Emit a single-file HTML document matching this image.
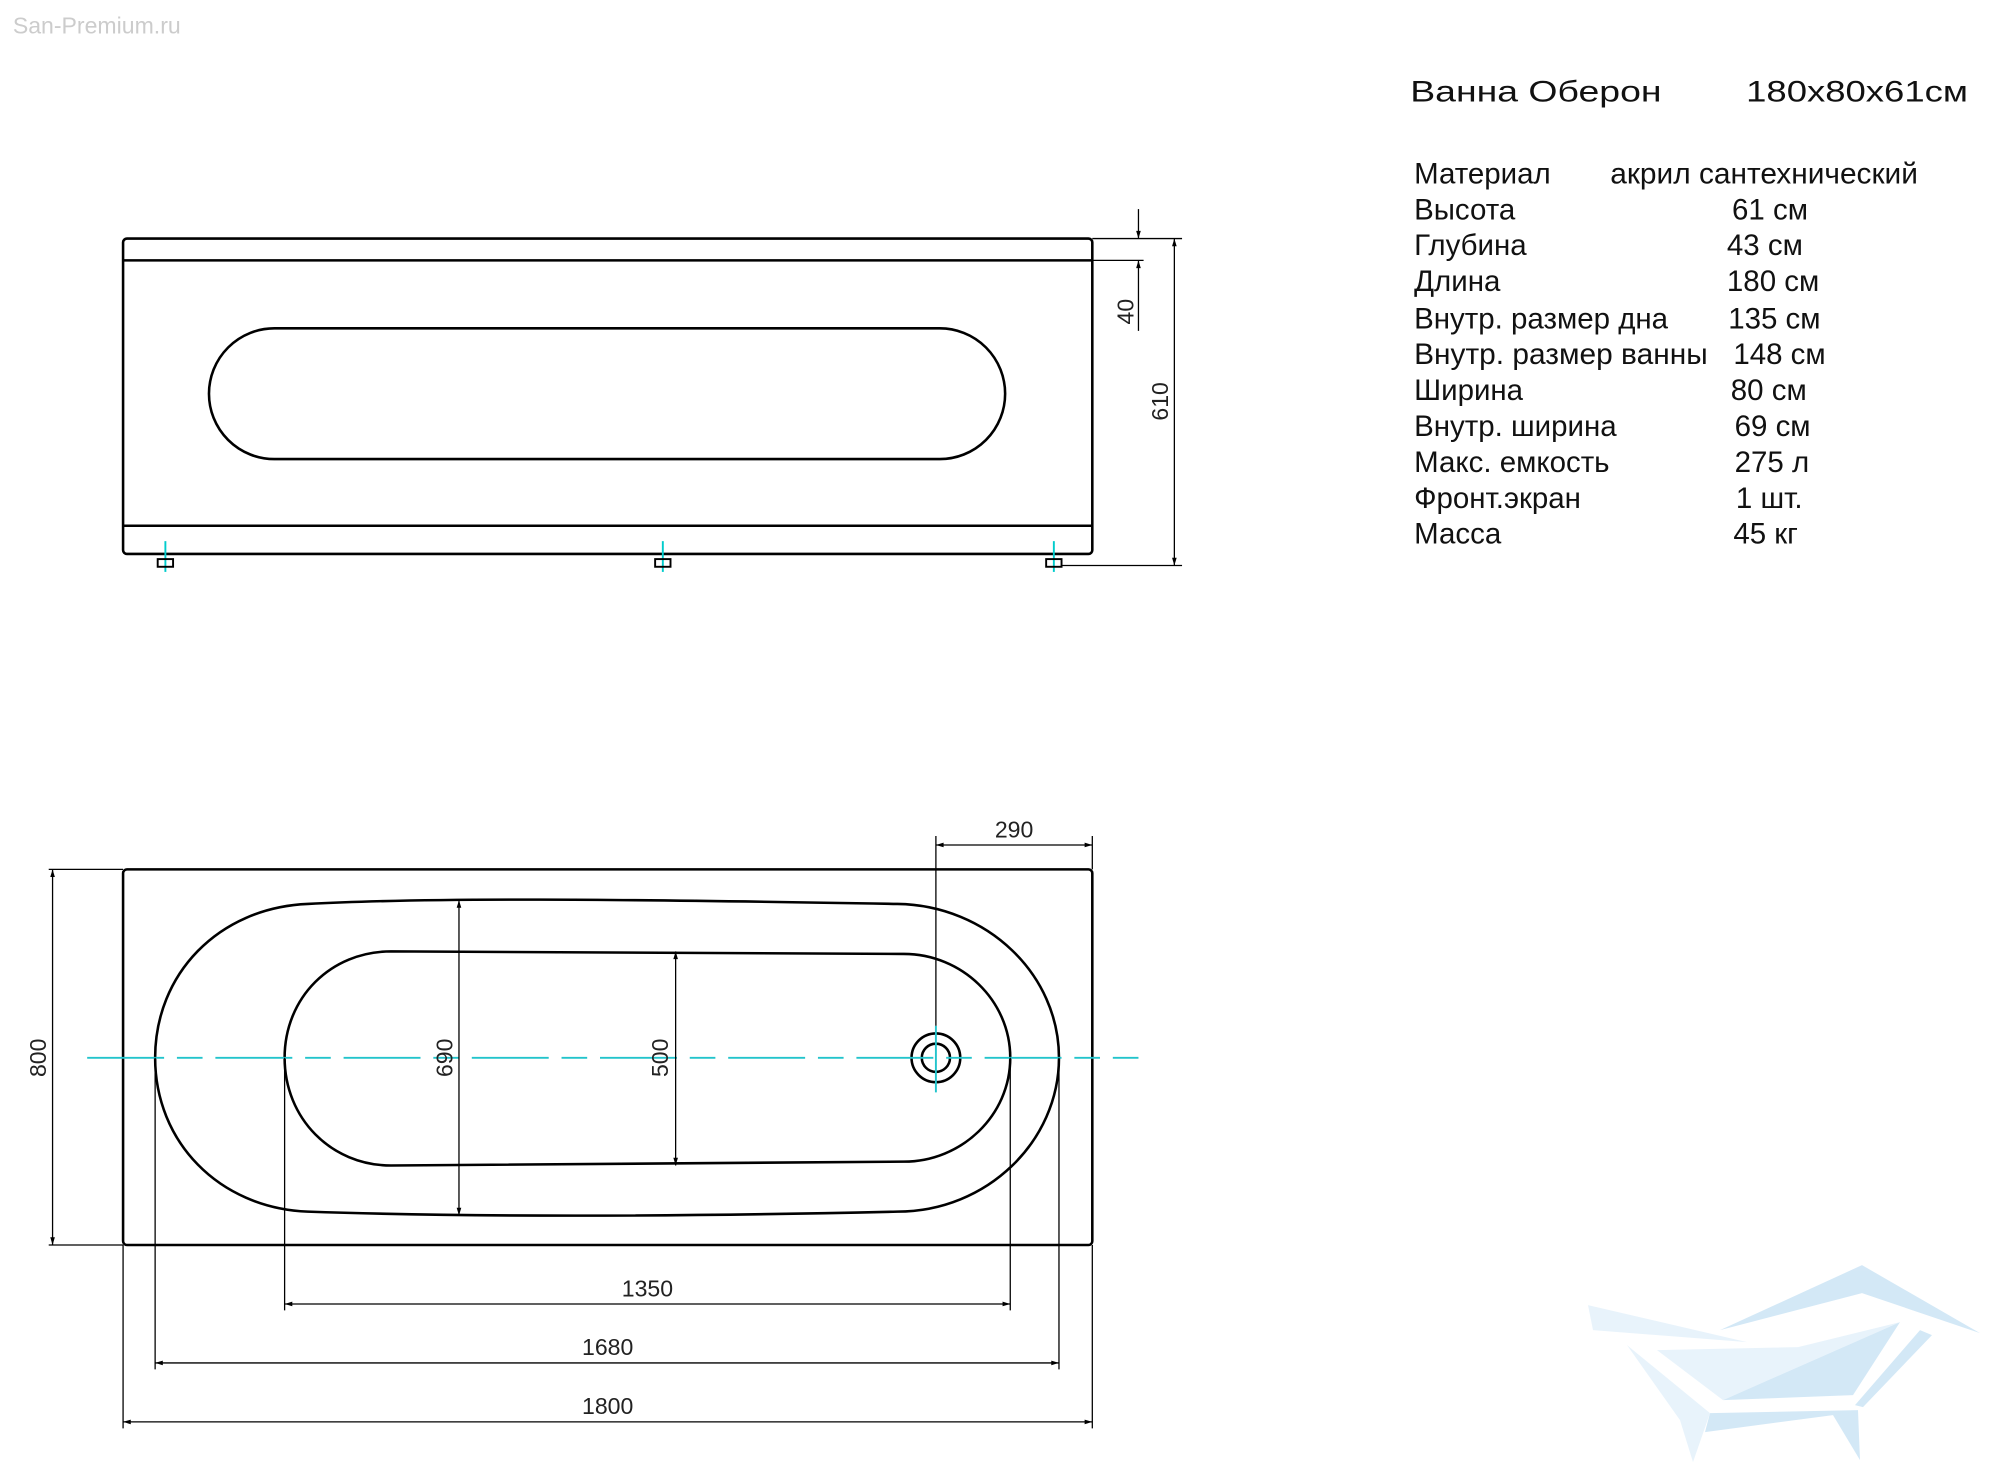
<!DOCTYPE html>
<html><head><meta charset="utf-8"><style>
html,body{margin:0;padding:0;background:#fff;width:2000px;height:1481px;overflow:hidden}
svg{display:block}
.t{font-family:"Liberation Sans","Noto Sans CJK SC",sans-serif;font-size:23px;fill:#111}
.d{font-family:"Liberation Sans",sans-serif;font-size:18px;fill:#222}
</style></head><body>
<svg width="2000" height="1481" viewBox="0 0 1560 1155" xmlns="http://www.w3.org/2000/svg">
<defs>
<marker id="a" viewBox="0 0 10 10" refX="10" refY="5" markerWidth="10" markerHeight="6" orient="auto-start-reverse" markerUnits="userSpaceOnUse"><path d="M0,2 L10,5 L0,8 z" fill="#000"/></marker>
</defs>
<text x="10" y="26" font-family="Liberation Sans,sans-serif" font-size="18" fill="#ccc">San-Premium.ru</text>

<g transform="scale(0.78)" opacity="0.9">
<polygon points="1720,1330 1862,1265 1980,1333 1862,1293" fill="#cfe6f6"/>
<polygon points="1588,1305 1747,1342 1593,1330" fill="#e6f2fb"/>
<polygon points="1657,1350 1798,1347 1900,1322 1723,1400" fill="#e6f2fb"/>
<polygon points="1900,1322 1853,1395 1723,1400" fill="#cfe6f6"/>
<polygon points="1710,1413 1858,1410 1860,1460 1833,1415 1705,1432" fill="#cfe6f6"/>
<polygon points="1627,1345 1710,1413 1693,1462 1680,1420" fill="#e6f2fb"/>
<polygon points="1920,1330 1932,1335 1863,1407 1855,1405" fill="#cfe6f6"/>
</g>

<text class="t" x="1100" y="79" font-size="30" textLength="196" lengthAdjust="spacingAndGlyphs">Ванна Оберон</text>
<text class="t" x="1362" y="79" font-size="30" textLength="173" lengthAdjust="spacingAndGlyphs">180x80x61см</text>
<g class="t">
<text x="1103" y="143">Материал</text><text x="1256" y="143" textLength="240" lengthAdjust="spacingAndGlyphs">акрил сантехнический</text>
<text x="1103" y="171">Высота</text><text x="1351" y="171">61 см</text>
<text x="1103" y="199">Глубина</text><text x="1347" y="199">43 см</text>
<text x="1103" y="227">Длина</text><text x="1347" y="227">180 см</text>
<text x="1103" y="256">Внутр. размер дна</text><text x="1348" y="256">135 см</text>
<text x="1103" y="284" textLength="229" lengthAdjust="spacingAndGlyphs">Внутр. размер ванны</text><text x="1352" y="284">148 см</text>
<text x="1103" y="312">Ширина</text><text x="1350" y="312">80 см</text>
<text x="1103" y="340">Внутр. ширина</text><text x="1353" y="340">69 см</text>
<text x="1103" y="368">Макс. емкость</text><text x="1353" y="368">275 л</text>
<text x="1103" y="396">Фронт.экран</text><text x="1354" y="396">1 шт.</text>
<text x="1103" y="424">Масса</text><text x="1352" y="424">45 кг</text>
</g>

<g fill="none" stroke="#000" stroke-width="2">
<rect x="96" y="186" width="756" height="246" rx="3"/>
<line x1="96" y1="203" x2="852" y2="203"/>
<line x1="96" y1="410" x2="852" y2="410"/>
<rect x="163" y="256" width="621" height="102" rx="51"/>
</g>
<g stroke="#000" stroke-width="1" fill="none">
<line x1="852" y1="186" x2="922" y2="186"/>
<line x1="852" y1="203" x2="892" y2="203"/>
<line x1="828" y1="441" x2="922" y2="441"/>
<line x1="916" y1="186" x2="916" y2="441" marker-start="url(#a)" marker-end="url(#a)"/>
<line x1="888" y1="163" x2="888" y2="186" marker-end="url(#a)"/>
<line x1="888" y1="203" x2="888" y2="258" marker-start="url(#a)"/>
</g>
<g stroke="#0cc" stroke-width="1.5"><line x1="129" y1="422" x2="129" y2="446"/><line x1="517" y1="422" x2="517" y2="446"/><line x1="822" y1="422" x2="822" y2="446"/></g>
<g fill="none" stroke="#000" stroke-width="1.5">
<rect x="123" y="436" width="12" height="6"/><rect x="511" y="436" width="12" height="6"/><rect x="816" y="436" width="12" height="6"/>
</g>
<text class="d" transform="translate(911,313) rotate(-90)" text-anchor="middle">610</text>
<text class="d" transform="translate(884,243) rotate(-90)" text-anchor="middle">40</text>

<g fill="none" stroke="#000" stroke-width="2">
<rect x="96" y="678" width="756" height="293" rx="3"/>
<path d="M240,705 C330,700 480,701 700,705 C770,706 826,760 826,825 C826,890 770,945 700,945 C480,950 330,948 240,945 C170,942 121,890 121,825 C121,760 170,708 240,705 Z"/>
<path d="M305,742 L705,744 C750,744 788,780 788,825 C788,870 750,906 705,906 L305,909 C258,909 222,872 222,825 C222,778 258,742 305,742 Z"/>
<circle cx="730" cy="825" r="19"/><circle cx="730" cy="825" r="11"/>
</g>
<line x1="68" y1="825" x2="888" y2="825" stroke="#22c4cc" stroke-width="1.5" stroke-dasharray="60,10,20,10"/>
<line x1="730" y1="800" x2="730" y2="852" stroke="#22c4cc" stroke-width="1.5"/>
<g stroke="#000" stroke-width="1" fill="none">
<line x1="358" y1="702" x2="358" y2="948" marker-start="url(#a)" marker-end="url(#a)"/>
<line x1="527" y1="742" x2="527" y2="909" marker-start="url(#a)" marker-end="url(#a)"/>
<line x1="38" y1="678" x2="96" y2="678"/><line x1="38" y1="971" x2="96" y2="971"/>
<line x1="41" y1="678" x2="41" y2="971" marker-start="url(#a)" marker-end="url(#a)"/>
<line x1="730" y1="652" x2="730" y2="800"/><line x1="852" y1="652" x2="852" y2="678"/>
<line x1="730" y1="659" x2="852" y2="659" marker-start="url(#a)" marker-end="url(#a)"/>
<line x1="222" y1="825" x2="222" y2="1022"/><line x1="788" y1="825" x2="788" y2="1022"/>
<line x1="121" y1="825" x2="121" y2="1068"/><line x1="826" y1="825" x2="826" y2="1068"/>
<line x1="96" y1="971" x2="96" y2="1114"/><line x1="852" y1="971" x2="852" y2="1114"/>
<line x1="222" y1="1017" x2="788" y2="1017" marker-start="url(#a)" marker-end="url(#a)"/>
<line x1="121" y1="1063" x2="826" y2="1063" marker-start="url(#a)" marker-end="url(#a)"/>
<line x1="96" y1="1109" x2="852" y2="1109" marker-start="url(#a)" marker-end="url(#a)"/>
</g>
<text class="d" transform="translate(353,825) rotate(-90)" text-anchor="middle">690</text>
<text class="d" transform="translate(521,825) rotate(-90)" text-anchor="middle">500</text>
<text class="d" transform="translate(36,825) rotate(-90)" text-anchor="middle">800</text>
<text class="d" x="791" y="653" text-anchor="middle">290</text>
<text class="d" x="505" y="1011" text-anchor="middle">1350</text>
<text class="d" x="474" y="1057" text-anchor="middle">1680</text>
<text class="d" x="474" y="1103" text-anchor="middle">1800</text>
</svg>
</body></html>
